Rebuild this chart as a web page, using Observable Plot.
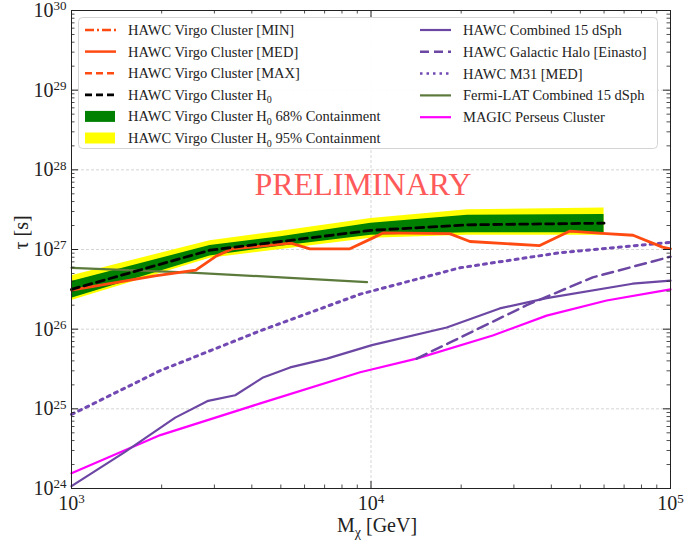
<!DOCTYPE html>
<html>
<head>
<meta charset="utf-8">
<script src="https://cdn.jsdelivr.net/npm/d3@7"></script>
<script src="https://cdn.jsdelivr.net/npm/@observablehq/plot@0.6"></script>
<style>
  body { margin: 0; background: #fff; }
  #chart { position: relative; width: 686px; height: 541px; }
  #legend { position: absolute; left: 0; top: 0; pointer-events: none; }
</style>
</head>
<body>
<div id="chart"></div>
<script>
// Axis ticks (decades) and their exponent labels
const xMajor = [1e3, 1e4, 1e5];
const yMajor = [1e24, 1e25, 1e26, 1e27, 1e28, 1e29, 1e30];

// HAWC Virgo Cluster [MED]
const virgoMedMass = [1000, 1900, 2600, 3050, 3450, 5400, 6250, 8500, 10200, 11000, 18300, 21400, 36600, 46000, 61000, 75000, 94000, 100000];
const virgoMedTau  = [3.09e26, 4.68e26, 5.5e26, 8.32e26, 1.02e27, 1.2e27, 1.02e27, 1.02e27, 1.41e27, 1.62e27, 1.58e27, 1.26e27, 1.12e27, 1.7e27, 1.58e27, 1.51e27, 1.07e27, 1.02e27];

// HAWC Virgo Cluster H0 expectation with containment bands
const h0Mass  = [1000, 2900, 5000, 10000, 21000, 60000];
const h0Tau   = [3.16e26, 9.8e26, 1.26e27, 1.74e27, 2.04e27, 2.14e27];
const h0Lo68  = [2.45e26, 8.3e26, 1.1e27, 1.51e27, 1.62e27, 1.62e27];
const h0Hi68  = [3.98e26, 1.12e27, 1.45e27, 2.14e27, 2.69e27, 2.75e27];
const h0Lo95  = [2.29e26, 7.76e26, 1.0e27, 1.38e27, 1.51e27, 1.51e27];
const h0Hi95  = [4.68e26, 1.29e27, 1.7e27, 2.45e27, 3.16e27, 3.31e27];

// HAWC Combined 15 dSph
const dsphMass = [1000, 1510, 2220, 2860, 3520, 4340, 5370, 7130, 10070, 17900, 26900, 38600, 74700, 100000];
const dsphTau  = [1.07e24, 2.88e24, 7.76e24, 1.26e25, 1.48e25, 2.45e25, 3.31e25, 4.27e25, 6.31e25, 1.05e26, 1.82e26, 2.45e26, 3.72e26, 4.07e26];

// HAWC Galactic Halo [Einasto]
const haloMass = [14200, 18300, 33100, 55000, 100000];
const haloTau  = [4.27e25, 6.76e25, 2.0e26, 4.47e26, 8.13e26];

// HAWC M31 [MED]
const m31Mass = [1000, 1980, 4270, 9200, 19800, 42700, 100000];
const m31Tau  = [8.5e24, 3.02e25, 9.55e25, 2.75e26, 5.89e26, 9.12e26, 1.23e27];

// Fermi-LAT Combined 15 dSph
const fermiMass = [1000, 2500, 5000, 9700];
const fermiTau  = [5.89e26, 5.13e26, 4.47e26, 3.89e26];

// MAGIC Perseus Cluster
const magicMass = [1000, 1980, 4270, 9200, 14200, 25500, 38600, 61200, 100000];
const magicTau  = [1.55e24, 4.68e24, 1.17e25, 2.88e25, 4.27e25, 8.32e25, 1.48e26, 2.29e26, 3.16e26];

const rows = (mass, tau) => mass.map((m, i) => ({m, tau: tau[i]}));
const bandRows = h0Mass.map((m, i) => ({m, lo68: h0Lo68[i], hi68: h0Hi68[i], lo95: h0Lo95[i], hi95: h0Hi95[i]}));

// Minor (2..9) ticks inside each decade
const yMinor = [];
for (let k = 24; k < 30; k++) for (let j = 2; j <= 9; j++) yMinor.push(j * Math.pow(10, k));
const xMinor = [];
for (let k = 3; k < 5; k++) for (let j = 2; j <= 9; j++) xMinor.push(j * Math.pow(10, k));

const serif = "'Liberation Serif', 'DejaVu Serif', serif";
const W = 686, H = 541, ML = 71, MR = 16, MT = 10, MB = 53;
const FW = W - ML - MR, FH = H - MT - MB;

const C = {
  orange: "#ff4a12",
  green: "#008000",
  yellow: "#ffff00",
  purple: "#6c46a3",
  dotted: "#7249b2",
  fermi: "#5b7a3c",
  magenta: "#ff00ff"
};

const expo = d => String(Math.round(Math.log10(d)));

const chart = Plot.plot({
  width: W,
  height: H,
  marginLeft: ML,
  marginRight: MR,
  marginTop: MT,
  marginBottom: MB,
  style: {fontFamily: serif, background: "white", color: "#222"},
  x: {type: "log", domain: [1e3, 1e5]},
  y: {type: "log", domain: [1e24, 1e30]},
  marks: [
    Plot.gridX(xMajor, {stroke: "#cccccc", strokeOpacity: 1, strokeWidth: 0.8, strokeDasharray: "3,2"}),
    Plot.gridY(yMajor, {stroke: "#cccccc", strokeOpacity: 1, strokeWidth: 0.8, strokeDasharray: "3,2"}),

    Plot.areaY(bandRows, {x: "m", y1: "lo95", y2: "hi95", fill: C.yellow, curve: "linear"}),
    Plot.areaY(bandRows, {x: "m", y1: "lo68", y2: "hi68", fill: C.green, curve: "linear"}),

    Plot.line(rows(fermiMass, fermiTau), {x: "m", y: "tau", stroke: C.fermi, strokeWidth: 2.2}),
    Plot.line(rows(magicMass, magicTau), {x: "m", y: "tau", stroke: C.magenta, strokeWidth: 2.2}),
    Plot.line(rows(dsphMass, dsphTau), {x: "m", y: "tau", stroke: C.purple, strokeWidth: 2.2}),
    Plot.line(rows(haloMass, haloTau), {x: "m", y: "tau", stroke: C.purple, strokeWidth: 2.5, strokeDasharray: "11,6"}),
    Plot.line(rows(m31Mass, m31Tau), {x: "m", y: "tau", stroke: C.dotted, strokeWidth: 3, strokeDasharray: "3,5"}),
    Plot.line(rows(virgoMedMass, virgoMedTau), {x: "m", y: "tau", stroke: C.orange, strokeWidth: 2.8}),
    Plot.line(rows(h0Mass, h0Tau), {x: "m", y: "tau", stroke: "#000", strokeWidth: 2.8, strokeDasharray: "8,5"}),

    Plot.text(["PRELIMINARY"], {frameAnchor: "top", dx: -8, dy: 162, fontSize: 32, fill: "#ff5a5a", fontFamily: serif}),

    Plot.frame({stroke: "#222", strokeWidth: 1}),

    // inward ticks on all four sides
    Plot.tickY(yMajor, {y: d => d, insetRight: FW - 7, stroke: "#222"}),
    Plot.tickY(yMajor, {y: d => d, insetLeft: FW - 7, stroke: "#222"}),
    Plot.tickY(yMinor, {y: d => d, insetRight: FW - 3.5, stroke: "#222", strokeWidth: 0.8}),
    Plot.tickY(yMinor, {y: d => d, insetLeft: FW - 3.5, stroke: "#222", strokeWidth: 0.8}),
    Plot.tickX(xMajor, {x: d => d, insetTop: FH - 7, stroke: "#222"}),
    Plot.tickX(xMajor, {x: d => d, insetBottom: FH - 7, stroke: "#222"}),
    Plot.tickX(xMinor, {x: d => d, insetTop: FH - 3.5, stroke: "#222", strokeWidth: 0.8}),
    Plot.tickX(xMinor, {x: d => d, insetBottom: FH - 3.5, stroke: "#222", strokeWidth: 0.8}),

    Plot.axisX(xMajor, {tickSize: 0, tickPadding: 7, fontSize: 20, label: null, tickFormat: expo}),
    Plot.axisY(yMajor, {tickSize: 0, tickPadding: 5, fontSize: 20, label: null, tickFormat: expo}),

    Plot.text(["M"], {frameAnchor: "bottom", dx: 6, dy: 43, fontSize: 20, fill: "#222"}),
    Plot.text(["τ [s]"], {frameAnchor: "left", dx: -50, rotate: -90, fontSize: 20, fill: "#222"})
  ]
});

const ns = "http://www.w3.org/2000/svg";
const svgEl = chart.tagName === "svg" ? chart : chart.querySelector("svg");

// tick labels as 10 with a raised exponent
function powerLabels(selector) {
  svgEl.querySelectorAll(selector).forEach(t => {
    const e = t.textContent;
    t.textContent = "";
    const base = document.createElementNS(ns, "tspan");
    base.textContent = "10";
    const sup = document.createElementNS(ns, "tspan");
    sup.textContent = e;
    sup.setAttribute("dy", "-6.5");
    sup.setAttribute("font-size", "13");
    t.append(base, sup);
  });
}
powerLabels('g[aria-label="x-axis tick label"] text');
powerLabels('g[aria-label="y-axis tick label"] text');

// x-axis title with subscript chi
svgEl.querySelectorAll("text").forEach(t => {
  if (t.textContent !== "M") return;
  t.textContent = "";
  const a = document.createElementNS(ns, "tspan"); a.textContent = "M";
  const b = document.createElementNS(ns, "tspan"); b.textContent = "χ"; b.setAttribute("dy", "5"); b.setAttribute("font-size", "14");
  const c = document.createElementNS(ns, "tspan"); c.textContent = " [GeV]"; c.setAttribute("dy", "-5");
  t.append(a, b, c);
});

document.getElementById("chart").append(chart);

// Legend inside the upper part of the frame
const legendLeft = [
  {label: "HAWC Virgo Cluster [MIN]", kind: "line", color: C.orange, width: 2.5, dash: "9,3,2,3"},
  {label: "HAWC Virgo Cluster [MED]", kind: "line", color: C.orange, width: 2.5, dash: null},
  {label: "HAWC Virgo Cluster [MAX]", kind: "line", color: C.orange, width: 2.5, dash: "7,4"},
  {label: "HAWC Virgo Cluster H", sub: "0", kind: "line", color: "#000", width: 2.8, dash: "7,4"},
  {label: "HAWC Virgo Cluster H", sub: "0", tail: " 68% Containment", kind: "rect", color: C.green},
  {label: "HAWC Virgo Cluster H", sub: "0", tail: " 95% Containment", kind: "rect", color: C.yellow}
];
const legendRight = [
  {label: "HAWC Combined 15 dSph", kind: "line", color: C.purple, width: 2.2, dash: null},
  {label: "HAWC Galactic Halo [Einasto]", kind: "line", color: C.purple, width: 2.5, dash: "9,5"},
  {label: "HAWC M31 [MED]", kind: "line", color: C.dotted, width: 2.5, dash: "2.5,4"},
  {label: "Fermi-LAT Combined 15 dSph", kind: "line", color: C.fermi, width: 2.2, dash: null},
  {label: "MAGIC Perseus Cluster", kind: "line", color: C.magenta, width: 2.2, dash: null}
];

const leg = d3.create("svg")
  .attr("id", "legend")
  .attr("width", W)
  .attr("height", 160)
  .style("font-family", serif);

leg.append("rect")
  .attr("x", 78.5).attr("y", 17.5).attr("width", 579).attr("height", 131)
  .attr("rx", 4)
  .attr("fill", "white").attr("fill-opacity", 0.92)
  .attr("stroke", "#d4d4d4");

function drawColumn(items, x0, tx, y0, step) {
  items.forEach((d, i) => {
    const y = y0 + i * step;
    if (d.kind === "rect") {
      leg.append("rect").attr("x", x0).attr("y", y - 5.5).attr("width", 30).attr("height", 11).attr("fill", d.color);
    } else {
      const ln = leg.append("line").attr("x1", x0).attr("x2", x0 + 31).attr("y1", y).attr("y2", y)
        .attr("stroke", d.color).attr("stroke-width", d.width);
      if (d.dash) ln.attr("stroke-dasharray", d.dash);
    }
    const t = leg.append("text").attr("x", tx).attr("y", y + 5).attr("font-size", 14.5).attr("fill", "#222");
    t.append("tspan").text(d.label);
    if (d.sub) {
      t.append("tspan").attr("dy", 3.5).attr("font-size", 10).text(d.sub);
      if (d.tail) t.append("tspan").attr("dy", -3.5).text(d.tail);
    }
  });
}
drawColumn(legendLeft, 85, 128, 30, 21.6);
drawColumn(legendRight, 420, 463, 30, 21.8);

document.getElementById("chart").append(leg.node());
</script>
</body>
</html>
